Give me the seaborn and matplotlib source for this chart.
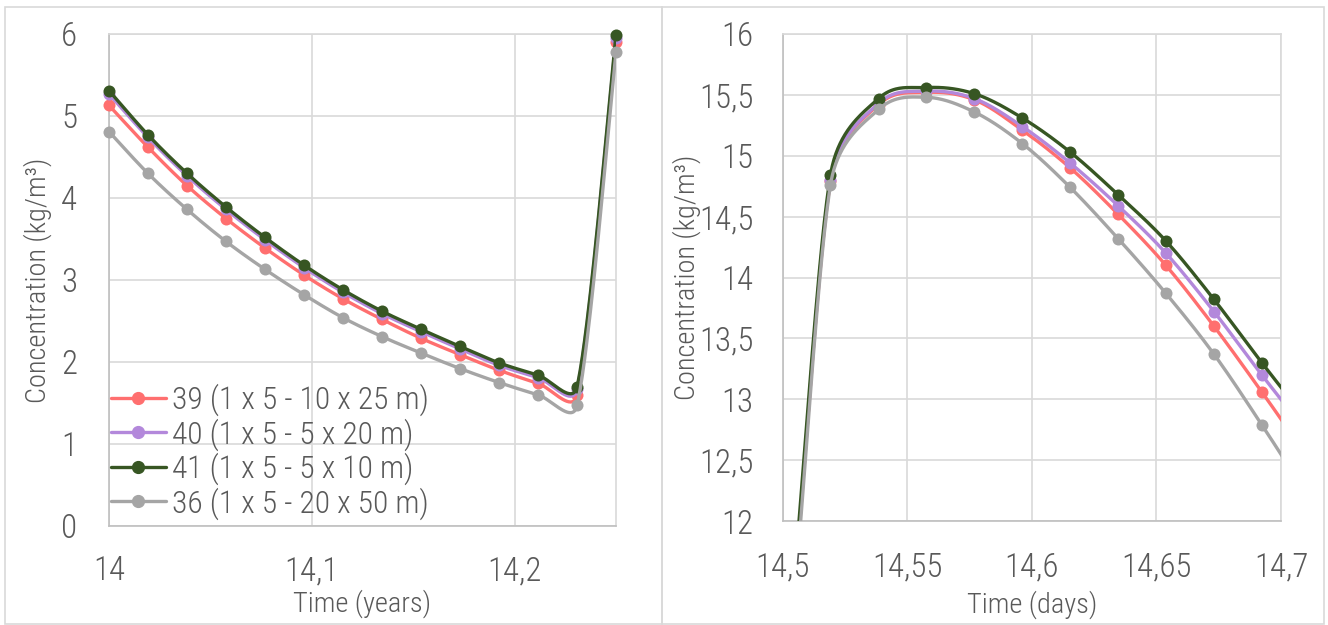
import numpy as np
import pandas as pd
import seaborn as sns
import matplotlib
matplotlib.use("Agg")
from matplotlib import pyplot as plt
from matplotlib import font_manager
from matplotlib.font_manager import FontProperties
from matplotlib.textpath import TextPath
from matplotlib.lines import Line2D
from matplotlib.patches import Rectangle
from matplotlib.ticker import FixedLocator, FuncFormatter

# weekly output times (years)
t_left = [14.0, 14.0192, 14.0385, 14.0577, 14.0769, 14.0962, 14.1154,
          14.1346, 14.1538, 14.1731, 14.1923, 14.2115, 14.2308, 14.25]
t_right = [14.4808, 14.5, 14.5192, 14.5385, 14.5577, 14.5769, 14.5962,
           14.6154, 14.6346, 14.6538, 14.6731, 14.6923, 14.7115]

runs = ["39 (1 x 5 - 10 x 25 m)", "40 (1 x 5 - 5 x 20 m)",
        "41 (1 x 5 - 5 x 10 m)", "36 (1 x 5 - 20 x 50 m)"]

# concentration (kg/m3), left panel
c39_left = [5.13, 4.62, 4.15, 3.75, 3.39, 3.06, 2.77, 2.52, 2.29, 2.09, 1.90, 1.74, 1.60, 5.90]
c40_left = [5.27, 4.74, 4.27, 3.86, 3.49, 3.15, 2.85, 2.59, 2.37, 2.16, 1.96, 1.81, 1.67, 5.95]
c41_left = [5.31, 4.77, 4.30, 3.89, 3.52, 3.18, 2.88, 2.62, 2.40, 2.19, 1.99, 1.84, 1.70, 5.99]
c36_left = [4.81, 4.30, 3.86, 3.47, 3.13, 2.82, 2.54, 2.31, 2.11, 1.92, 1.75, 1.60, 1.47, 5.78]

# concentration (kg/m3), right panel
c39_right = [9.0, 10.5, 14.79, 15.42, 15.52, 15.46, 15.21, 14.90, 14.52, 14.10, 13.60, 13.06, 12.50]
c40_right = [9.0, 10.5, 14.80, 15.43, 15.53, 15.47, 15.24, 14.94, 14.59, 14.20, 13.72, 13.20, 12.70]
c41_right = [9.0, 10.6, 14.84, 15.47, 15.56, 15.51, 15.31, 15.03, 14.68, 14.30, 13.82, 13.30, 12.80]
c36_right = [9.0, 10.4, 14.76, 15.38, 15.48, 15.36, 15.10, 14.74, 14.32, 13.87, 13.37, 12.79, 12.18]

colors = ["#FF6F6F", "#B388DB", "#375623", "#A5A5A5"]
txt = "#595959"
grid = "#D9D9D9"

sns.set_theme(style="white")

# the original uses a narrow face; take the best one the system has
have = {}
for f in font_manager.fontManager.ttflist:
    if f.style == "normal":
        have.setdefault((f.name, f.stretch), f)
fam, stretch = "Roboto", "normal"
for name in ["Liberation Sans Narrow", "Roboto Condensed", "Open Sans Condensed",
             "Noto Sans", "Open Sans", "DejaVu Sans Condensed", "DejaVu Sans"]:
    hits = [k for k in have if k[0] == name and
            ("Narrow" in name or "Condensed" in name or k[1] in ("condensed", "semi-condensed"))]
    if hits:
        fam, stretch = hits[0]
        break
plt.rcParams["font.family"] = [fam, "DejaVu Sans"]
plt.rcParams["font.stretch"] = stretch
plt.rcParams["font.weight"] = 300
plt.rcParams["axes.labelweight"] = 300
prop = FontProperties(family=fam, stretch=stretch, weight=300)


def size_for(text, width_px):
    w = TextPath((0, 0), text, size=10, prop=prop).get_extents().width
    return 10 * width_px / (w * 100 / 72)


leg_fs = size_for(runs[0], 253)
tick_fs = size_for("14,55", 66)
lab_fs = size_for("Concentration (kg/m3)", 246)

W, H = 1328, 625
fig = plt.figure(figsize=(W / 100, H / 100), dpi=100)
fig.patch.set_facecolor("white")


def px_axes(l, t, r, b):
    return fig.add_axes([l / W, 1 - b / H, (r - l) / W, (b - t) / H])


def excel_smooth(ax, xs, ys, n=40):
    # Excel-like smoothed line (bezier, tension 1/6, control length capped)
    p = ax.transData.transform(np.column_stack([xs, ys]))
    m = len(p)
    out = []
    tt = np.linspace(0, 1, n)[:, None]
    for i in range(m - 1):
        p0 = p[i - 1] if i > 0 else p[i]
        p1, p2 = p[i], p[i + 1]
        p3 = p[i + 2] if i + 2 < m else p[i + 1]
        d12 = np.linalg.norm(p2 - p1)
        v1 = (p2 - p0) / 6
        v2 = (p3 - p1) / 6
        if np.linalg.norm(v1) > d12 / 2:
            v1 = v1 * (d12 / 2) / np.linalg.norm(v1)
        if np.linalg.norm(v2) > d12 / 2:
            v2 = v2 * (d12 / 2) / np.linalg.norm(v2)
        c1, c2 = p1 + v1, p2 - v2
        seg = ((1 - tt) ** 3) * p1 + 3 * ((1 - tt) ** 2) * tt * c1 \
            + 3 * (1 - tt) * tt ** 2 * c2 + tt ** 3 * p2
        out.append(seg if i == 0 else seg[1:])
    out = ax.transData.inverted().transform(np.vstack(out))
    return out[:, 0], out[:, 1]


def style(ax, xticks, yticks, xlabel, ylabel, ylab_x, xlab_y, xpad, ypad):
    ax.set_facecolor("white")
    ax.xaxis.set_major_locator(FixedLocator(xticks))
    ax.yaxis.set_major_locator(FixedLocator(yticks))
    fmt = FuncFormatter(lambda v, pos: f"{v:g}".replace(".", ","))
    ax.xaxis.set_major_formatter(fmt)
    ax.yaxis.set_major_formatter(fmt)
    ax.grid(True, color=grid, linewidth=1.2)
    ax.set_axisbelow(True)
    for s in ax.spines.values():
        s.set_color(grid)
        s.set_linewidth(1.2)
    ax.spines["left"].set_color("#BFBFBF")
    ax.spines["bottom"].set_color("#BFBFBF")
    ax.tick_params(axis="both", length=0, labelsize=tick_fs, labelcolor=txt)
    ax.tick_params(axis="x", pad=xpad)
    ax.tick_params(axis="y", pad=ypad)
    ax.set_xlabel(xlabel, fontsize=lab_fs, color=txt, va="center", fontweight=300)
    ax.set_ylabel(ylabel, fontsize=lab_fs, color=txt, va="center", fontweight=300)
    ax.xaxis.set_label_coords(0.5, xlab_y)
    ax.yaxis.set_label_coords(ylab_x, 0.5)


def draw(ax, t, series, xlim):
    for k, (name, vals) in enumerate(zip(runs, series)):
        xs, ys = excel_smooth(ax, t, vals)
        sns.lineplot(x=xs, y=ys, ax=ax, color=colors[k], linewidth=2.4,
                     sort=False, estimator=None, zorder=3 + 2 * k)
        pts = pd.DataFrame({"t": t, "c": vals})
        pts = pts[(pts.t >= xlim[0] - 1e-9) & (pts.t <= xlim[1] + 1e-9)]
        sns.scatterplot(data=pts, x="t", y="c", ax=ax, color=colors[k], s=75,
                        linewidth=0, zorder=4 + 2 * k, clip_on=False)


# left chart
axL = px_axes(109, 34, 616, 526)
axL.set_xlim(14, 14.25)
axL.set_ylim(0, 6)
draw(axL, t_left, [c39_left, c40_left, c41_left, c36_left], (14, 14.25))
style(axL, [14, 14.1, 14.2], [0, 1, 2, 3, 4, 5, 6], "Time (years)",
      "Concentration (kg/m³)", -0.14, -0.158, 21, 23)

handles = [Line2D([0], [0], color=c, linewidth=2.4, marker="o", markersize=8.5)
           for c in colors]
leg = axL.legend(handles, runs, loc="center left", bbox_to_anchor=(0.003, 0.151),
                 frameon=False, fontsize=leg_fs, labelcolor=txt,
                 handlelength=40 / leg_fs, handletextpad=4 / leg_fs,
                 labelspacing=(35.6 * 0.72 - leg_fs * 1.17 + 2.3) / leg_fs,
                 borderpad=0.0, borderaxespad=0.0)

# right chart
axR = px_axes(782.6, 34, 1281, 521)
axR.set_xlim(14.5, 14.7)
axR.set_ylim(12, 16)
draw(axR, t_right, [c39_right, c40_right, c41_right, c36_right], (14.5, 14.7))
style(axR, [14.5, 14.55, 14.6, 14.65, 14.7],
      [12, 12.5, 13, 13.5, 14, 14.5, 15, 15.5, 16], "Time (days)",
      "Concentration (kg/m³)", -0.192, -0.171, 22, 21)

# chart area frames
for l, t, r, b in [(5, 7, 662, 624), (662, 7, 1324, 624)]:
    fig.add_artist(Rectangle((l / W, 1 - b / H), (r - l) / W, (b - t) / H,
                             transform=fig.transFigure, fill=False,
                             edgecolor=grid, linewidth=1.2))

fig.savefig("out.png", dpi=100, facecolor="white")
